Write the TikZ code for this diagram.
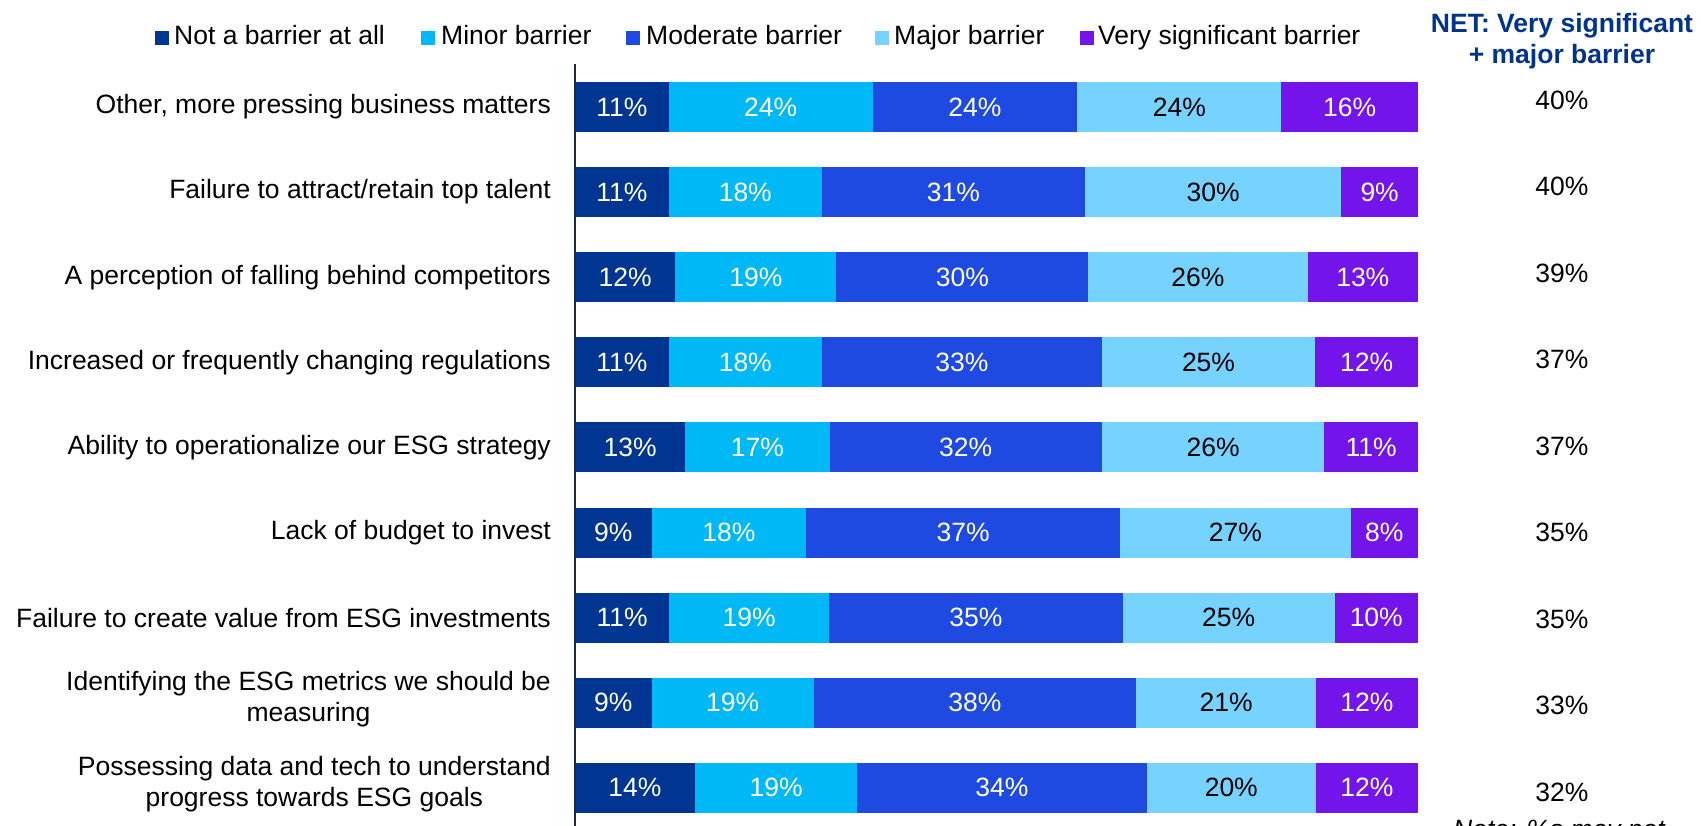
\documentclass[tikz,border=0pt]{standalone}
\usepackage{fontspec}
\setmainfont{Liberation Sans}
\definecolor{cNot}{RGB}{0,53,145}
\definecolor{cMin}{RGB}{0,184,245}
\definecolor{cMod}{RGB}{31,74,226}
\definecolor{cMaj}{RGB}{118,210,255}
\definecolor{cVS}{RGB}{114,20,234}
\definecolor{netblue}{RGB}{0,51,141}
\definecolor{axisc}{RGB}{30,40,70}
\tikzset{
  txt/.style={font=\fontsize{26.5}{31}\selectfont, inner sep=0pt},
  rowlabel/.style={txt, anchor=east, align=center, text=black},
  val/.style={txt, text=white},
  valdark/.style={txt, text=black},
  netval/.style={txt, text=black},
  leg/.style={txt, anchor=base west, text=black},
  legbox/.style={minimum size=14pt, inner sep=0pt, anchor=south west},
}
\begin{document}
\begin{tikzpicture}[x=1pt,y=-1pt]
\useasboundingbox (0,0) rectangle (1701,826);
% legend
\node[legbox, fill=cNot] (lg1) at (155,45) {};
\node[leg] (lt1) at (174,45) {Not a barrier at all};
\node[legbox, fill=cMin] (lg2) at (421,45) {};
\node[leg] (lt2) at (441,45) {Minor barrier};
\node[legbox, fill=cMod] (lg3) at (626,45) {};
\node[leg] (lt3) at (646,45) {Moderate barrier};
\node[legbox, fill=cMaj] (lg4) at (875,45) {};
\node[leg] (lt4) at (894,45) {Major barrier};
\node[legbox, fill=cVS] (lg5) at (1080,45) {};
\node[leg] (lt5) at (1098,45) {Very significant barrier};
% NET header
\node[txt, font=\fontsize{26.5}{31}\selectfont\bfseries, text=netblue, align=center, anchor=north] (neth) at (1562,13) {NET: Very significant\\+ major barrier};
% bars
\foreach \i/\a/\b/\c/\d/\va/\vb/\vc/\vd/\ve/\net in {
1/11.1/35.3/59.6/83.8/11/24/24/24/16/40,
2/11.1/29.3/60.5/90.9/11/18/31/30/9/40,
3/11.9/31.0/60.9/86.9/12/19/30/26/13/39,
4/11.1/29.3/62.5/87.8/11/18/33/25/12/37,
5/13.1/30.2/62.5/88.9/13/17/32/26/11/37,
6/9.1/27.4/64.7/92.0/9/18/37/27/8/35,
7/11.2/30.1/65.0/90.1/11/19/35/25/10/35,
8/9.1/28.3/66.6/87.9/9/19/38/21/12/33,
9/14.2/33.5/67.8/87.9/14/19/34/20/12/32}{
  \pgfmathsetmacro\y{107+85.1*(\i-1)}
  \pgfmathsetmacro\yt{\y-25}
  \pgfmathsetmacro\yb{\y+25}
  \pgfmathsetmacro\xa{575+8.43*\a}
  \pgfmathsetmacro\xb{575+8.43*\b}
  \pgfmathsetmacro\xc{575+8.43*\c}
  \pgfmathsetmacro\xd{575+8.43*\d}
  \fill[cNot] (575,\yt) rectangle (\xa,\yb);
  \fill[cMin] (\xa,\yt) rectangle (\xb,\yb);
  \fill[cMod] (\xb,\yt) rectangle (\xc,\yb);
  \fill[cMaj] (\xc,\yt) rectangle (\xd,\yb);
  \fill[cVS] (\xd,\yt) rectangle (1418,\yb);
  \node[val] (s\i a) at ({(575+\xa)/2},\y) {\va\%};
  \node[val] (s\i b) at ({(\xa+\xb)/2},\y) {\vb\%};
  \node[val] (s\i c) at ({(\xb+\xc)/2},\y) {\vc\%};
  \node[valdark] (s\i d) at ({(\xc+\xd)/2},\y) {\vd\%};
  \node[val] (s\i e) at ({(\xd+1418)/2},\y) {\ve\%};
  \pgfmathsetmacro\ny{100+86.5*(\i-1)}
  \node[netval] (net\i) at (1562,\ny) {\net\%};
}
% row labels
\node[rowlabel] (l1) at (551,107) {Other, more pressing business matters};
\node[rowlabel] (l2) at (551,192.1) {Failure to attract/retain top talent};
\node[rowlabel] (l3) at (551,277.2) {A perception of falling behind competitors};
\node[rowlabel] (l4) at (551,362.3) {Increased or frequently changing regulations};
\node[rowlabel] (l5) at (551,447.4) {Ability to operationalize our ESG strategy};
\node[rowlabel] (l6) at (551,532.5) {Lack of budget to invest};
\node[rowlabel] (l7) at (551,617.6) {Failure to create value from ESG investments};
\node[rowlabel] (l8) at (551,699) {Identifying the ESG metrics we should be\\measuring};
\node[rowlabel] (l9) at (551,784) {Possessing data and tech to understand\\progress towards ESG goals};
% axis
\coordinate (axtop) at (575,64);
\coordinate (axbot) at (575,826);
\draw[axisc, line width=1.3pt] (axtop) -- (axbot);
% note (cut off at bottom, as in the reference)
\node[txt, font=\fontsize{26.5}{31}\selectfont\itshape, anchor=base west, text=black] (note) at (1453,838) {Note: \%s may not};
\end{tikzpicture}
\end{document}
